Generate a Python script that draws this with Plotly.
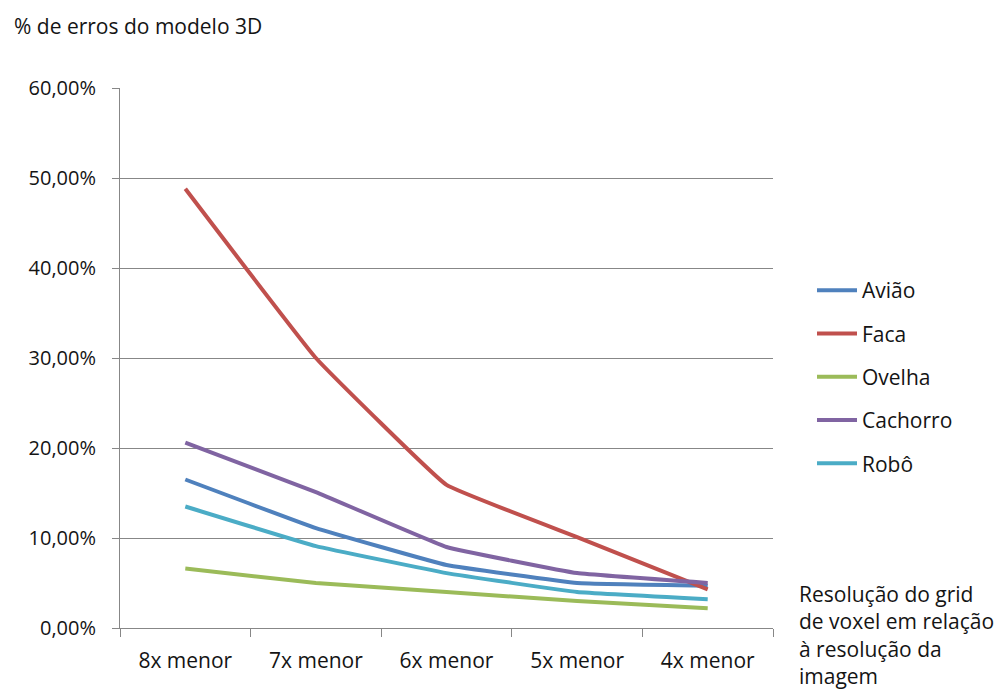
import plotly.graph_objects as go

# Grid resolution relative to the image resolution
categorias = ["8x menor", "7x menor", "6x menor", "5x menor", "4x menor"]

# Error rate of the 3D model (fraction) for each object
aviao = [0.165, 0.111, 0.070, 0.050, 0.047]
faca = [0.488, 0.300, 0.159, 0.101, 0.043]
ovelha = [0.066, 0.050, 0.040, 0.030, 0.022]
cachorro = [0.206, 0.151, 0.090, 0.061, 0.050]
robo = [0.135, 0.091, 0.061, 0.040, 0.032]

series = [
    ("Avião", aviao, "#4F81BD"),
    ("Faca", faca, "#C0504D"),
    ("Ovelha", ovelha, "#9BBB59"),
    ("Cachorro", cachorro, "#8064A2"),
    ("Robô", robo, "#4BACC6"),
]

FONT = "Open Sans"
TEXT = "#141414"
GRID = "#878787"

fig = go.Figure()
for i, (nome, valores, cor) in enumerate(series):
    fig.add_trace(go.Scatter(
        x=categorias, y=valores, name=nome, mode="lines",
        line=dict(color=cor, width=4, shape="spline", smoothing=0.25),
        legendgroup=f"g{i}",
        hoverinfo="skip",
    ))

fig.update_layout(
    width=997, height=689,
    margin=dict(l=120, r=224, t=88, b=61),
    paper_bgcolor="white", plot_bgcolor="white",
    font=dict(family=FONT, size=21, color=TEXT),
    separators=",.",
    showlegend=True,
    legend=dict(
        x=1 + (812 - 773) / 653, y=1 - (270 - 88) / 540,
        xanchor="left", yanchor="top",
        font=dict(family=FONT, size=21, color=TEXT),
        tracegroupgap=13, itemwidth=40,
        bgcolor="rgba(0,0,0,0)",
    ),
    xaxis=dict(
        type="category", tickson="boundaries", ticks="outside", ticklen=8,
        tickcolor=GRID, showline=True, linecolor=GRID, linewidth=1,
        showgrid=False, range=[-0.5, 4.5], ticklabelstandoff=14,
        tickfont=dict(family=FONT, size=21, color=TEXT),
    ),
    yaxis=dict(
        range=[0, 0.6], dtick=0.1, tickformat=".2%",
        showgrid=True, gridcolor=GRID, gridwidth=1,
        showline=True, linecolor=GRID, linewidth=1,
        ticks="outside", ticklen=7, tickcolor=GRID,
        zeroline=False, ticklabelstandoff=12,
        tickfont=dict(family=FONT, size=20, color=TEXT),
    ),
    annotations=[
        dict(text="% de erros do modelo 3D", xref="paper", yref="paper",
             x=-(120 - 12) / 653, y=1 + (88 - 26) / 540,
             xanchor="left", yanchor="middle",
             showarrow=False, font=dict(family=FONT, size=21, color=TEXT)),
        dict(text="Resolução do grid<br>de voxel em relação<br>à resolução da<br>imagem",
             xref="paper", yref="paper", x=1 + (797 - 773) / 653,
             y=-(635 - 628) / 540,
             xanchor="left", yanchor="middle", align="left", showarrow=False,
             font=dict(family=FONT, size=21, color=TEXT)),
    ],
)

fig.write_html("out.html")
